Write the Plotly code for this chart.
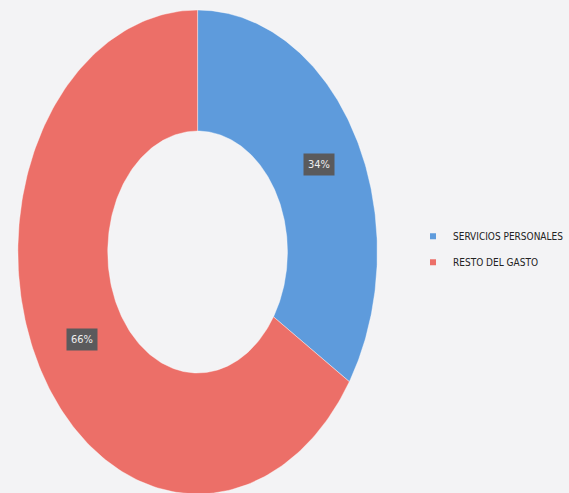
import numpy as np
import plotly.graph_objects as go

categories = ["SERVICIOS PERSONALES", "RESTO DEL GASTO"]
values = [34, 66]
colors = ["#5e9bdc", "#ec6f68"]

HOLE = 0.5
W, H = 569, 493
CX, CY = 199, 252          # pixel centre of donut
RX, RY = 181, 242          # pixel half-axes (scan is stretched vertically)
FONT = "DejaVu Sans Condensed, Liberation Sans Narrow, Liberation Sans, Arial"

fig = go.Figure()
total = float(sum(values))
start = 0.0
label_pos = []
for cat, val, col in zip(categories, values, colors):
    a0 = start / total * 2 * np.pi
    a1 = (start + val) / total * 2 * np.pi
    t = np.linspace(a0, a1, 200)
    xo, yo = np.sin(t), np.cos(t)
    xi, yi = HOLE * np.sin(t[::-1]), HOLE * np.cos(t[::-1])
    xs = np.concatenate([xo, xi, xo[:1]])
    ys = np.concatenate([yo, yi, yo[:1]])
    fig.add_trace(go.Scatter(x=xs, y=ys, fill="toself", fillcolor=col, mode="lines",
                             line=dict(color="rgba(255,255,255,0.5)", width=0.8),
                             hoverinfo="skip", showlegend=False))
    am = (a0 + a1) / 2
    rm = (1 + HOLE) / 2
    label_pos.append((rm * np.sin(am), rm * np.cos(am), f"{round(val / total * 100)}%"))
    fig.add_trace(go.Scatter(x=[None], y=[None], mode="markers", name=cat,
                             marker=dict(symbol="square", size=6, color=col),
                             legendgroup=cat))
    start += val

for x, y, txt in label_pos:
    fig.add_annotation(x=x, y=y, text=txt, showarrow=False, xshift=3,
                       font=dict(family=FONT, size=11, color="#eeeeee"),
                       bgcolor="#5a5a5c", borderpad=4)

fig.update_xaxes(range=[-CX / RX, (W - CX) / RX], visible=False, fixedrange=True)
fig.update_yaxes(range=[-(H - CY) / RY, CY / RY], visible=False, fixedrange=True)
fig.update_layout(
    width=W, height=H,
    margin=dict(l=0, r=0, t=0, b=0),
    paper_bgcolor="#f3f3f5", plot_bgcolor="#f3f3f5",
    legend=dict(x=0.731, y=0.55, xanchor="left", yanchor="top",
                font=dict(family=FONT, size=10, color="#222222"),
                bgcolor="rgba(0,0,0,0)", traceorder="grouped", tracegroupgap=7,
                itemwidth=30),
)
fig.write_html("out.html", config={"displayModeBar": False},
               post_script="document.body.style.margin='0';document.body.style.overflow='hidden';")
